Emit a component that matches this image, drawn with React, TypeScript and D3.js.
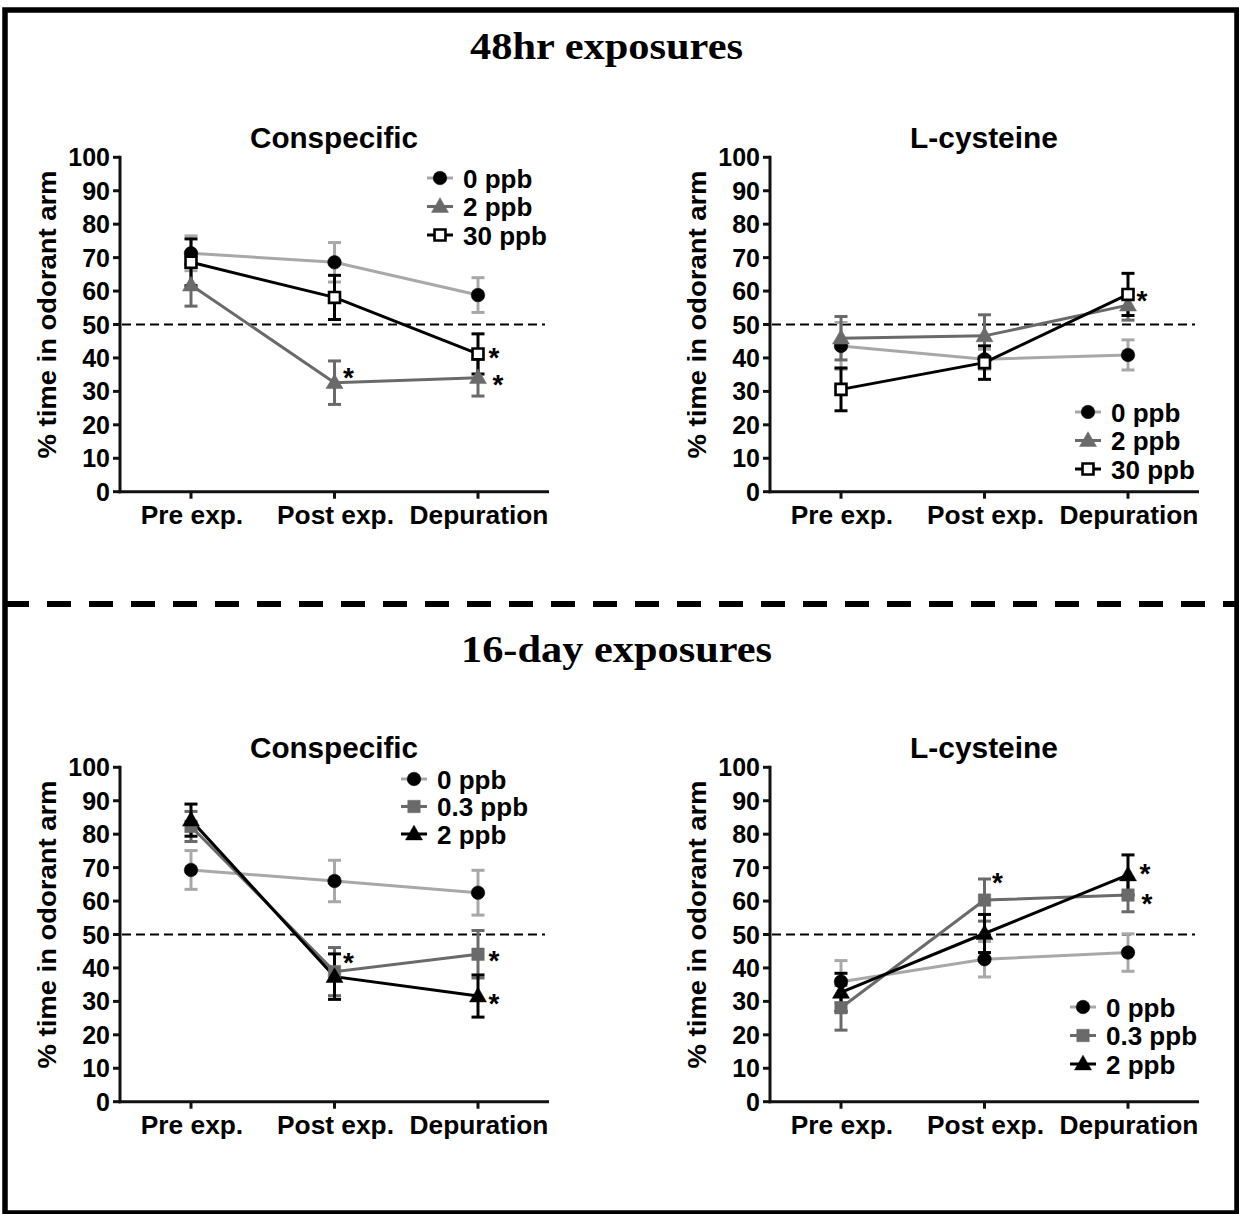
import React from "react";
import * as d3 from "d3";

const categories = ["Pre exp.", "Post exp.", "Depuration"];
const yTicks = [0, 10, 20, 30, 40, 50, 60, 70, 80, 90, 100];

// 48hr exposures — Conspecific
const con48_0ppb = [71.3, 68.6, 58.8];
const con48_0ppbErr = [5.2, 5.9, 5.2];
const con48_2ppb = [61.8, 32.6, 34.1];
const con48_2ppbErr = [6.3, 6.5, 5.5];
const con48_30ppb = [68.6, 58.1, 41.2];
const con48_30ppbErr = [7.0, 6.6, 6.0];

// 48hr exposures — L-cysteine
const cys48_0ppb = [43.6, 39.6, 40.9];
const cys48_0ppbErr = [7.0, 3.0, 4.5];
const cys48_2ppb = [45.9, 46.6, 55.8];
const cys48_2ppbErr = [6.5, 6.3, 4.5];
const cys48_30ppb = [30.6, 38.6, 59.0];
const cys48_30ppbErr = [6.4, 5.0, 6.3];

// 16-day exposures — Conspecific
const con16_0ppb = [69.3, 66.0, 62.5];
const con16_0ppbErr = [5.8, 6.2, 6.7];
const con16_03ppb = [82.3, 38.9, 44.1];
const con16_03ppbErr = [4.5, 7.2, 7.1];
const con16_2ppb = [84.2, 37.4, 31.6];
const con16_2ppbErr = [4.8, 6.8, 6.3];

// 16-day exposures — L-cysteine
const cys16_0ppb = [35.9, 42.6, 44.6];
const cys16_0ppbErr = [6.3, 5.3, 5.6];
const cys16_03ppb = [28.1, 60.3, 61.8];
const cys16_03ppbErr = [6.7, 6.3, 5.0];
const cys16_2ppb = [32.7, 50.3, 67.8];
const cys16_2ppbErr = [5.7, 5.7, 6.0];

// significance stars: category + vertical level (data units)
const con48Stars = [
  { cat: "Post exp.", level: 35.8 },
  { cat: "Depuration", level: 41.8 },
  { cat: "Depuration", level: 33.7 },
];
const cys48Stars = [{ cat: "Depuration", level: 58.8 }];
const con16Stars = [
  { cat: "Post exp.", level: 43.3 },
  { cat: "Depuration", level: 43.9 },
  { cat: "Depuration", level: 31.0 },
];
const cys16Stars = [
  { cat: "Post exp.", level: 67.2 },
  { cat: "Depuration", level: 69.9 },
  { cat: "Depuration", level: 61.0 },
];

const LIGHT = "#a8a8a8";
const MID = "#6a6a6a";
const BLACK = "#000000";
const SANS = "'Liberation Sans', Arial, Helvetica, sans-serif";
const SERIF = "'Liberation Serif', 'Times New Roman', serif";

type Series = {
  label: string;
  mean: number[];
  err: number[];
  shape: "circle" | "triangle" | "square";
  color: string;
  markerFill: string;
  markerStroke: string;
};

const s48con: Series[] = [
  { label: "0 ppb", mean: con48_0ppb, err: con48_0ppbErr, shape: "circle", color: LIGHT, markerFill: BLACK, markerStroke: BLACK },
  { label: "2 ppb", mean: con48_2ppb, err: con48_2ppbErr, shape: "triangle", color: MID, markerFill: MID, markerStroke: MID },
  { label: "30 ppb", mean: con48_30ppb, err: con48_30ppbErr, shape: "square", color: BLACK, markerFill: "#fff", markerStroke: BLACK },
];
const s48cys: Series[] = [
  { label: "0 ppb", mean: cys48_0ppb, err: cys48_0ppbErr, shape: "circle", color: LIGHT, markerFill: BLACK, markerStroke: BLACK },
  { label: "2 ppb", mean: cys48_2ppb, err: cys48_2ppbErr, shape: "triangle", color: MID, markerFill: MID, markerStroke: MID },
  { label: "30 ppb", mean: cys48_30ppb, err: cys48_30ppbErr, shape: "square", color: BLACK, markerFill: "#fff", markerStroke: BLACK },
];
const s16con: Series[] = [
  { label: "0 ppb", mean: con16_0ppb, err: con16_0ppbErr, shape: "circle", color: LIGHT, markerFill: BLACK, markerStroke: BLACK },
  { label: "0.3 ppb", mean: con16_03ppb, err: con16_03ppbErr, shape: "square", color: MID, markerFill: MID, markerStroke: MID },
  { label: "2 ppb", mean: con16_2ppb, err: con16_2ppbErr, shape: "triangle", color: BLACK, markerFill: BLACK, markerStroke: BLACK },
];
const s16cys: Series[] = [
  { label: "0 ppb", mean: cys16_0ppb, err: cys16_0ppbErr, shape: "circle", color: LIGHT, markerFill: BLACK, markerStroke: BLACK },
  { label: "0.3 ppb", mean: cys16_03ppb, err: cys16_03ppbErr, shape: "square", color: MID, markerFill: MID, markerStroke: MID },
  { label: "2 ppb", mean: cys16_2ppb, err: cys16_2ppbErr, shape: "triangle", color: BLACK, markerFill: BLACK, markerStroke: BLACK },
];

function symbolPath(shape: Series["shape"]) {
  const type =
    shape === "circle" ? d3.symbolCircle : shape === "triangle" ? d3.symbolTriangle : d3.symbolSquare;
  const size = shape === "circle" ? 145 : shape === "triangle" ? 125 : 155;
  return d3.symbol().type(type).size(size)() as string;
}

function Marker({ s, x, y }: { s: Series; x: number; y: number }) {
  const isOpen = s.markerFill === "#fff";
  const d = isOpen
    ? (d3.symbol().type(d3.symbolSquare).size(120)() as string)
    : symbolPath(s.shape);
  return (
    <path
      d={d}
      transform={`translate(${x},${y + (s.shape === "triangle" ? 1 : 0)})`}
      fill={s.markerFill}
      stroke={s.markerStroke}
      strokeWidth={isOpen ? 2.6 : 0.5}
    />
  );
}

type PanelProps = {
  axisX: number;
  yTop: number;
  yBottom: number;
  title: string;
  titleLen: number;
  series: Series[];
  stars: { cat: string; level: number }[];
  starDx: number[];
  legendX: number;
  legendY: number;
  legendStep: number;
};

function Panel(p: PanelProps) {
  const y = d3.scaleLinear().domain([0, 100]).range([p.yBottom, p.yTop]);
  const x = d3
    .scalePoint<string>()
    .domain(categories)
    .range([p.axisX + 71, p.axisX + 358]);
  const axisRight = p.axisX + 429;
  const line = d3
    .line<number>()
    .x((_, i) => x(categories[i]) as number)
    .y((d) => y(d));
  const cap = 6.5;
  return (
    <g>
      <text
        x={p.axisX + 214}
        y={p.yTop - 9}
        textAnchor="middle"
        fontFamily={SANS}
        fontWeight="bold"
        fontSize={29}
        textLength={p.titleLen}
        lengthAdjust="spacingAndGlyphs"
      >
        {p.title}
      </text>
      {/* y axis */}
      <line x1={p.axisX} x2={p.axisX} y1={y(100) - 1.5} y2={y(0) + 1.5} stroke="#111" strokeWidth={3} />
      {yTicks.map((t) => (
        <g key={t}>
          <line x1={p.axisX - 7} x2={p.axisX} y1={y(t)} y2={y(t)} stroke="#111" strokeWidth={3} />
          <text
            x={p.axisX - 10}
            y={y(t) + 9}
            textAnchor="end"
            fontFamily={SANS}
            fontWeight="bold"
            fontSize={25}
          >
            {t}
          </text>
        </g>
      ))}
      <text
        transform={`translate(${p.axisX - 64},${(p.yTop + p.yBottom) / 2 - 10}) rotate(-90)`}
        textAnchor="middle"
        fontFamily={SANS}
        fontWeight="bold"
        fontSize={26}
        textLength={288}
        lengthAdjust="spacingAndGlyphs"
      >
        % time in odorant arm
      </text>
      {/* x axis */}
      <line x1={p.axisX - 1.5} x2={axisRight} y1={y(0)} y2={y(0)} stroke="#111" strokeWidth={3} />
      {categories.map((c) => (
        <g key={c}>
          <line
            x1={x(c)}
            x2={x(c)}
            y1={y(0)}
            y2={y(0) + 7}
            stroke="#111"
            strokeWidth={3}
          />
          <text
            x={(x(c) as number) + 1}
            y={y(0) + 32}
            textAnchor="middle"
            fontFamily={SANS}
            fontWeight="bold"
            fontSize={26.3}
          >
            {c}
          </text>
        </g>
      ))}
      {/* 50% reference */}
      <line
        x1={p.axisX + 2}
        x2={p.axisX + 425}
        y1={y(50)}
        y2={y(50)}
        stroke="#000"
        strokeWidth={2.2}
        strokeDasharray="9 5"
      />
      {/* series */}
      {p.series.map((s, si) => (
        <g key={si}>
          <path d={line(s.mean) as string} fill="none" stroke={s.color} strokeWidth={3} />
          {s.mean.map((m, i) => {
            const cx = x(categories[i]) as number;
            const hi = y(m + s.err[i]);
            const lo = y(m - s.err[i]);
            return (
              <g key={i} stroke={s.color} strokeWidth={3}>
                <line x1={cx} x2={cx} y1={hi} y2={lo} />
                <line x1={cx - cap} x2={cx + cap} y1={hi} y2={hi} />
                <line x1={cx - cap} x2={cx + cap} y1={lo} y2={lo} />
              </g>
            );
          })}
        </g>
      ))}
      {p.series.map((s, si) => (
        <g key={"m" + si}>
          {s.mean.map((m, i) => (
            <Marker key={i} s={s} x={x(categories[i]) as number} y={y(m)} />
          ))}
        </g>
      ))}
      {/* stars */}
      {p.stars.map((st, i) => (
        <text
          key={i}
          x={(x(st.cat) as number) + p.starDx[i]}
          y={y(st.level) + 15}
          textAnchor="middle"
          fontFamily={SANS}
          fontWeight="bold"
          fontSize={28}
        >
          *
        </text>
      ))}
      {/* legend */}
      {p.series.map((s, i) => {
        const ly = p.legendY + i * p.legendStep;
        return (
          <g key={"l" + i}>
            <line
              x1={p.legendX - 13}
              x2={p.legendX + 13}
              y1={ly}
              y2={ly}
              stroke={s.color}
              strokeWidth={3}
            />
            <Marker s={s} x={p.legendX} y={ly} />
            <text
              x={p.legendX + 23}
              y={ly + 9.5}
              fontFamily={SANS}
              fontWeight="bold"
              fontSize={26}
            >
              {s.label}
            </text>
          </g>
        );
      })}
    </g>
  );
}

export default function App() {
  const W = 1239;
  const H = 1214;
  return (
    <div style={{ position: "absolute", left: 0, top: 0 }}>
      <svg width={W} height={H} viewBox={`0 0 ${W} ${H}`} style={{ display: "block", background: "#fff" }}>
        <rect x={0} y={0} width={W} height={H} fill="#fff" />
        <rect x={5} y={10} width={1232} height={1203} fill="none" stroke="#000" strokeWidth={5.5} />
        <line x1={5} x2={1239} y1={604} y2={604} stroke="#000" strokeWidth={6} strokeDasharray="24 18" />
        <text
          x={606.5}
          y={59}
          textAnchor="middle"
          fontFamily={SERIF}
          fontWeight="bold"
          fontSize={38}
          textLength={273}
          lengthAdjust="spacingAndGlyphs"
        >
          48hr exposures
        </text>
        <text
          x={616.5}
          y={662}
          textAnchor="middle"
          fontFamily={SERIF}
          fontWeight="bold"
          fontSize={38}
          textLength={311}
          lengthAdjust="spacingAndGlyphs"
        >
          16-day exposures
        </text>
        <Panel
          axisX={120}
          yTop={157.3}
          yBottom={491.7}
          title="Conspecific"
          titleLen={168}
          series={s48con}
          stars={con48Stars}
          starDx={[14, 16, 20]}
          legendX={440}
          legendY={178}
          legendStep={28.5}
        />
        <Panel
          axisX={770}
          yTop={157.3}
          yBottom={491.7}
          title="L-cysteine"
          titleLen={148}
          series={s48cys}
          stars={cys48Stars}
          starDx={[14]}
          legendX={1088}
          legendY={412}
          legendStep={28.5}
        />
        <Panel
          axisX={120}
          yTop={767.3}
          yBottom={1101.7}
          title="Conspecific"
          titleLen={168}
          series={s16con}
          stars={con16Stars}
          starDx={[14, 16, 16]}
          legendX={414}
          legendY={779}
          legendStep={27.5}
        />
        <Panel
          axisX={770}
          yTop={767.3}
          yBottom={1101.7}
          title="L-cysteine"
          titleLen={148}
          series={s16cys}
          stars={cys16Stars}
          starDx={[13, 17, 19]}
          legendX={1083}
          legendY={1007}
          legendStep={28.5}
        />
      </svg>
    </div>
  );
}
